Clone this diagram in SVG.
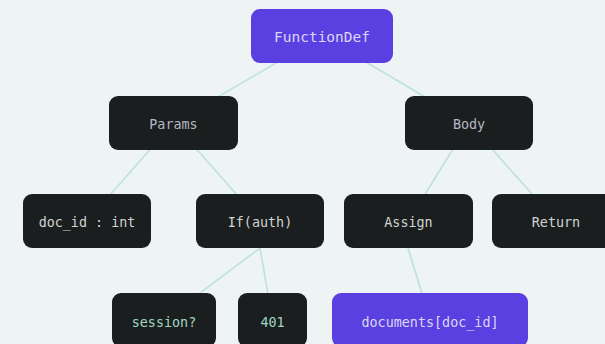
<svg xmlns="http://www.w3.org/2000/svg" width="605" height="344" viewBox="0 0 605 344">
<style>
.edge{stroke:#bfe2d8;stroke-width:1.6;fill:none}
.dark{fill:#1b1e1e}
.purple{fill:#5a40e0}
text{font-family:"DejaVu Sans Mono","Liberation Mono",monospace;font-size:13.4px;text-anchor:middle;dominant-baseline:central}
.t1{fill:#b4b8c4}
.t2{fill:#cfd3d1}
.t3{fill:#9fd8c2}
.tp{fill:#dcd6fa}
</style>
<rect width="605" height="344" fill="#eef3f3"/>
<g id="connectors">
<line class="edge" x1="322" y1="36" x2="173.5" y2="123"/>
<line class="edge" x1="322" y1="36" x2="469" y2="123"/>
<line class="edge" x1="173.5" y1="123" x2="87" y2="221"/>
<line class="edge" x1="173.5" y1="123" x2="260" y2="221"/>
<line class="edge" x1="469" y1="123" x2="408.5" y2="221"/>
<line class="edge" x1="469" y1="123" x2="556" y2="221"/>
<line class="edge" x1="260" y1="248" x2="164" y2="320"/>
<line class="edge" x1="260" y1="248" x2="272.5" y2="320"/>
<line class="edge" x1="408" y1="248" x2="430" y2="320"/>
</g>
<g id="n-functiondef"><rect class="purple" x="251" y="9" width="142" height="54" rx="9"/><text class="tp" x="322" y="37" style="font-size:14.5px">FunctionDef</text></g>
<g id="n-params"><rect class="dark" x="109" y="96" width="129" height="54" rx="9"/><text class="t1" x="173.5" y="124">Params</text></g>
<g id="n-body"><rect class="dark" x="405" y="96" width="128" height="54" rx="9"/><text class="t1" x="469" y="124">Body</text></g>
<g id="n-docid"><rect class="dark" x="23" y="194" width="128" height="54" rx="9"/><text class="t2" x="87" y="222">doc_id : int</text></g>
<g id="n-if"><rect class="dark" x="196" y="194" width="128" height="54" rx="9"/><text class="t2" x="260" y="222">If(auth)</text></g>
<g id="n-assign"><rect class="dark" x="344" y="194" width="129" height="54" rx="9"/><text class="t2" x="408.5" y="222">Assign</text></g>
<g id="n-return"><rect class="dark" x="492" y="194" width="128" height="54" rx="9"/><text class="t2" x="556" y="222">Return</text></g>
<g id="n-session"><rect class="dark" x="112" y="293" width="104" height="54" rx="9"/><text class="t3" x="164" y="322">session?</text></g>
<g id="n-401"><rect class="dark" x="238" y="293" width="69" height="54" rx="9"/><text class="t3" x="272.5" y="322">401</text></g>
<g id="n-documents"><rect class="purple" x="332" y="293" width="196" height="54" rx="9"/><text class="tp" x="430" y="322">documents[doc_id]</text></g>
</svg>
